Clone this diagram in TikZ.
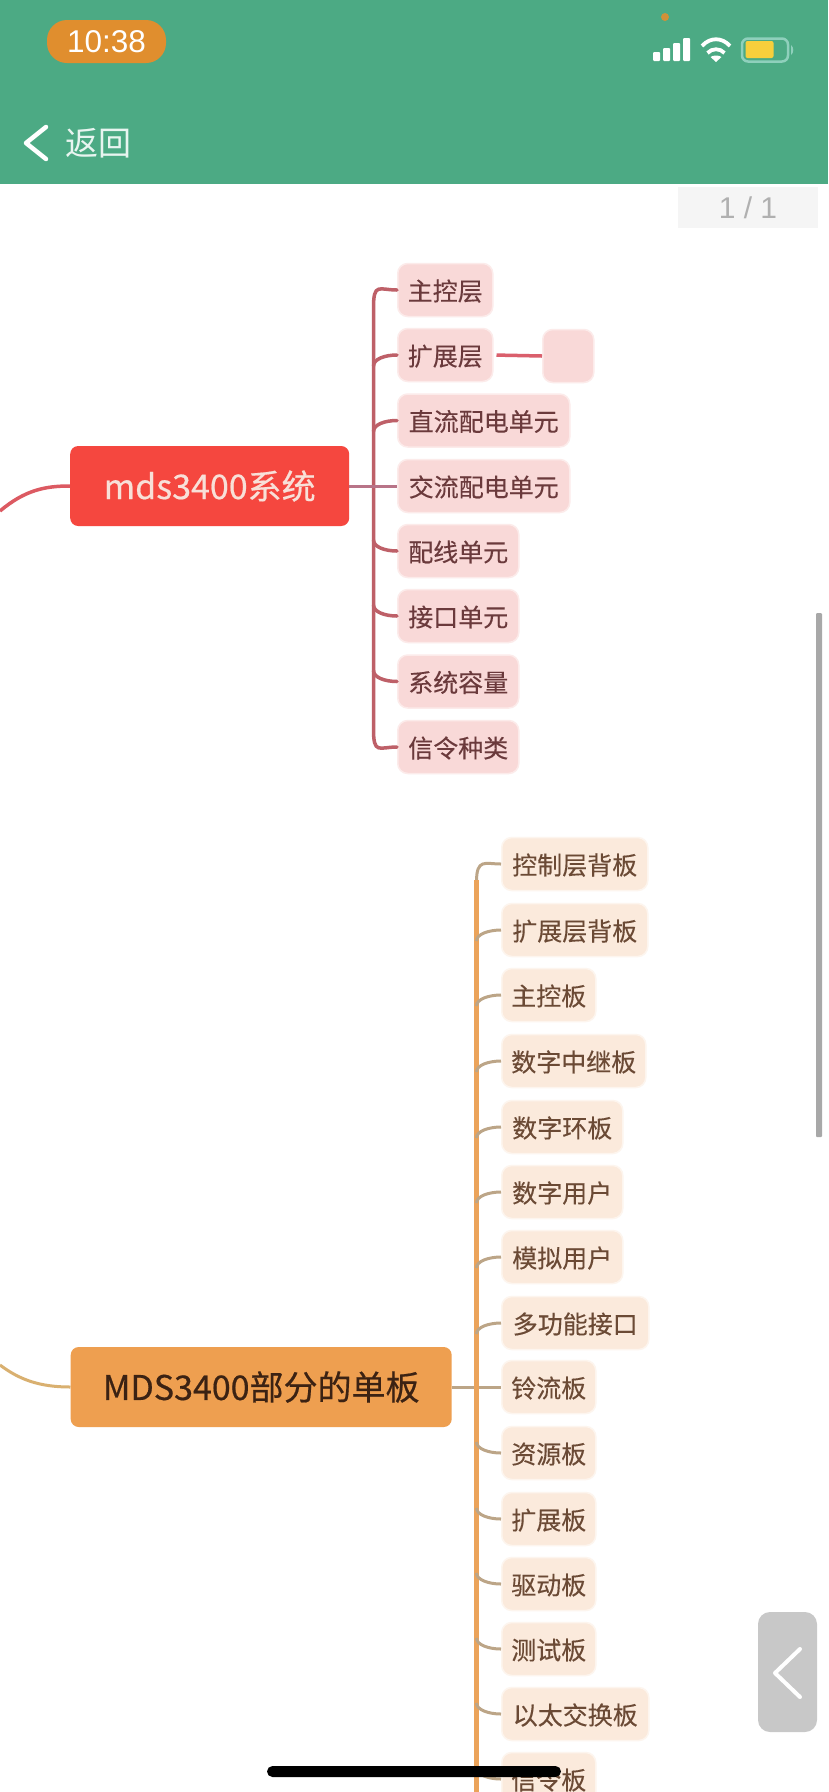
\documentclass[tikz,border=0pt]{standalone}
\usepackage{fontspec}
\setmainfont{Noto Sans CJK SC}
\newfontfamily\latinui{Liberation Sans}
\newfontfamily\kidfont[FakeBold=0.25]{Noto Sans CJK SC}
\newfontfamily\rootfont[FakeBold=0.5]{Noto Sans CJK SC}
\usetikzlibrary{calc}
\definecolor{barGreen}{HTML}{4CAA84}
\definecolor{pillOrange}{HTML}{E08E2E}
\definecolor{batEdge}{HTML}{8FD0BC}
\definecolor{batFill}{HTML}{F7CF3C}
\definecolor{backText}{HTML}{E8F5F0}
\definecolor{badgeFill}{HTML}{F5F5F5}
\definecolor{badgeText}{HTML}{B0B0B0}
\definecolor{scrollGray}{HTML}{A8A8A8}
\definecolor{handleGray}{HTML}{C8C8C8}
\definecolor{redRoot}{HTML}{F5473F}
\definecolor{redRootText}{HTML}{F8E0D8}
\definecolor{redKid}{HTML}{F9D9D8}
\definecolor{redKidEdge}{HTML}{FCEBEA}
\definecolor{redKidText}{HTML}{6B3A3C}
\definecolor{redTrunk}{HTML}{BE6068}
\definecolor{redMid}{HTML}{B87488}
\definecolor{redLink}{HTML}{DA5F6C}
\definecolor{redIn}{HTML}{DC5A62}
\definecolor{orRoot}{HTML}{EE9F50}
\definecolor{orRootText}{HTML}{3B2213}
\definecolor{orKid}{HTML}{FBEADC}
\definecolor{orKidEdge}{HTML}{FDF5EE}
\definecolor{orKidText}{HTML}{6B4A35}
\definecolor{orTrunk}{HTML}{EBA35A}
\definecolor{orStub}{HTML}{BCA587}
\definecolor{orIn}{HTML}{D9B070}
\tikzset{
  x=1pt,y=-1pt,
  rootbox/.style={anchor=west,rounded corners=8pt,inner sep=0pt,minimum height=80pt,font=\rootfont\fontsize{34}{38}\selectfont},
  redroot/.style={rootbox,fill=redRoot,text=redRootText},
  orroot/.style={rootbox,fill=orRoot,text=orRootText},
  kidbox/.style={anchor=west,rounded corners=10pt,inner sep=0pt,minimum height=53pt,line width=1.5pt,text height=23.5pt,text depth=2.5pt,font=\kidfont\fontsize{25}{30}\selectfont},
  redkid/.style={kidbox,fill=redKid,draw=redKidEdge,text=redKidText},
  orkid/.style={kidbox,fill=orKid,draw=orKidEdge,text=orKidText},
  redline/.style={draw=redTrunk,line width=3.5pt,line cap=round},
  orline/.style={draw=orTrunk,line width=5pt,line cap=butt},
  orstub/.style={draw=orStub,line width=3pt},
}
% stub from a child's west side that curves into the trunk below or above it
\newcommand{\stubfrombelow}[3]{\draw[#3] (#1.west) .. controls +(-12,0) and ($(#1.west -| #2)+(0,4)$) .. ($(#1.west -| #2)+(0,11)$);}
\newcommand{\stubfromabove}[3]{\draw[#3] (#1.west) .. controls +(-12,0) and ($(#1.west -| #2)+(0,-4)$) .. ($(#1.west -| #2)+(0,-11)$);}
\begin{document}
\begin{tikzpicture}
\useasboundingbox (0,0) rectangle (828,1792);
\clip (0,0) rectangle (828,1792);
\fill[white] (0,0) rectangle (828,1792);
% ---------- top bar
\fill[barGreen] (0,0) rectangle (828,184);
\node[fill=pillOrange,rounded corners=20pt,minimum width=119pt,minimum height=43pt,inner sep=0pt,text=white,font=\latinui\fontsize{31.5}{34}\selectfont] (clock) at (106.5,41.5) {10:38};
\fill[pillOrange!90!barGreen] (665,17) circle[radius=4];
\fill[white,rounded corners=1pt] (653,52) rectangle (660,61);
\fill[white,rounded corners=1pt] (663,48) rectangle (670,61);
\fill[white,rounded corners=1pt] (673,43) rectangle (680,61);
\fill[white,rounded corners=1pt] (683,38) rectangle (690,61);
\draw[white,line width=3.8pt] (702,46) .. controls (710,37) and (722,37) .. (730,46);
\draw[white,line width=3.8pt] (707.5,53) .. controls (712,48) and (720,48) .. (724.5,53);
\fill[white] (716,62) -- (710.5,57) .. controls (713,55) and (719,55) .. (721.5,57) -- cycle;
\draw[batEdge,line width=2.5pt,rounded corners=6pt] (742,38.5) rectangle (788,61.5);
\fill[batFill,rounded corners=2pt] (745.5,41) rectangle (773.5,58);
\fill[batEdge] (791,45) .. controls (794,47) and (794,53) .. (791,55) -- cycle;
\draw[white,line width=4.5pt,line cap=round,line join=round] (46,127) -- (26,143) -- (46,159);
\node[text=backText,font=\fontsize{33}{36}\selectfont,inner sep=0pt] (back) at (98.5,143) {返回};
\node[fill=badgeFill,minimum width=140pt,minimum height=41pt,inner sep=0pt,text=badgeText,font=\latinui\fontsize{30}{34}\selectfont] (page) at (748,207.5) {1 / 1};
% ---------- scrollbar
\fill[scrollGray,rounded corners=1pt] (816,613) rectangle (822,1137);
% ---------- red branch
\node[redroot,minimum width=279pt] (rr) at (70,486) {mds3400系统};
\node[redkid,minimum width=95pt]  (r1) at (397,290)   {主控层};
\node[redkid,minimum width=95pt]  (r2) at (397,355)   {扩展层};
\node[redkid,minimum width=172pt] (r3) at (397,420.5) {直流配电单元};
\node[redkid,minimum width=172pt] (r4) at (397,486)   {交流配电单元};
\node[redkid,minimum width=121pt] (r5) at (397,551)   {配线单元};
\node[redkid,minimum width=121pt] (r6) at (397,616)   {接口单元};
\node[redkid,minimum width=121pt] (r7) at (397,681.5) {系统容量};
\node[redkid,minimum width=121pt] (r8) at (397,747)   {信令种类};
\node[redkid,minimum width=51pt,minimum height=53pt] (rx) at (542,356) {};
\coordinate (rin) at (0,511);
\coordinate (rt) at (373.5,486);
\draw[redIn,line width=3.5pt] (rin) .. controls (25,490) and (45,486) .. (rr.west);
\draw[redline] (r1.west) .. controls +(-18,0) and ($(r1.west -| rt)+(0,-8)$) .. ($(r1.west -| rt)+(0,18)$)
   -- ($(r8.west -| rt)+(0,-18)$) .. controls ($(r8.west -| rt)+(0,8)$) and +(-18,0) .. (r8.west);
\stubfrombelow{r2}{rt}{redline}
\stubfrombelow{r3}{rt}{redline}
\stubfromabove{r5}{rt}{redline}
\stubfromabove{r6}{rt}{redline}
\stubfromabove{r7}{rt}{redline}
\draw[redMid,line width=3pt] (rr.east) -- (r4.west);
\draw[redLink,line width=3.5pt,shorten <=3pt] (r2.east) -- (rx.west);
% ---------- orange branch
\node[orroot,minimum width=381pt] (or) at (70.5,1387) {MDS3400部分的单板};
\node[orkid,minimum width=146pt] (o1)  at (501,864)  {控制层背板};
\node[orkid,minimum width=146pt] (o2)  at (501,930)  {扩展层背板};
\node[orkid,minimum width=94pt]  (o3)  at (501,995)  {主控板};
\node[orkid,minimum width=144pt] (o4)  at (501,1061) {数字中继板};
\node[orkid,minimum width=121pt] (o5)  at (501,1127) {数字环板};
\node[orkid,minimum width=121pt] (o6)  at (501,1192) {数字用户};
\node[orkid,minimum width=121pt] (o7)  at (501,1257) {模拟用户};
\node[orkid,minimum width=147pt] (o8)  at (501,1323) {多功能接口};
\node[orkid,minimum width=94pt]  (o9)  at (501,1387) {铃流板};
\node[orkid,minimum width=94pt]  (o10) at (501,1453) {资源板};
\node[orkid,minimum width=94pt]  (o11) at (501,1519) {扩展板};
\node[orkid,minimum width=94pt]  (o12) at (501,1584) {驱动板};
\node[orkid,minimum width=94pt]  (o13) at (501,1649) {测试板};
\node[orkid,minimum width=147pt] (o14) at (501,1714) {以太交换板};
\node[orkid,minimum width=94pt]  (o15) at (501,1779) {信令板};
\coordinate (oin) at (0,1365);
\coordinate (ot) at (476.5,1387);
\coordinate (oend) at (476.5,1792);
\draw[orIn,line width=3pt] (oin) .. controls (20,1380) and (40,1387) .. (or.west);
\draw[orstub] (o1.west) .. controls +(-16,0) and ($(o1.west -| ot)+(0,-6)$) .. ($(o1.west -| ot)+(0,18)$);
\draw[orline] ($(o1.west -| ot)+(0,16)$) -- (oend);
\stubfrombelow{o2}{ot}{orstub}
\stubfrombelow{o3}{ot}{orstub}
\stubfrombelow{o4}{ot}{orstub}
\stubfrombelow{o5}{ot}{orstub}
\stubfrombelow{o6}{ot}{orstub}
\stubfrombelow{o7}{ot}{orstub}
\stubfrombelow{o8}{ot}{orstub}
\stubfromabove{o10}{ot}{orstub}
\stubfromabove{o11}{ot}{orstub}
\stubfromabove{o12}{ot}{orstub}
\stubfromabove{o13}{ot}{orstub}
\stubfromabove{o14}{ot}{orstub}
\stubfromabove{o15}{ot}{orstub}
\draw[orStub,line width=3pt] (or.east) -- (ot);
\draw[orStub,line width=3pt] (ot) -- (o9.west);
\draw[orTrunk,line width=5pt] ($(ot)+(0,-6)$) -- ($(ot)+(0,6)$);
% ---------- floating controls
\fill[handleGray,rounded corners=12pt] (758,1612) rectangle (817,1732);
\draw[white,line width=4pt,line cap=round,line join=round] (800,1649) -- (775,1673) -- (800,1697);
\fill[black,rounded corners=5.5pt] (267,1766) rectangle (561,1777);
\end{tikzpicture}
\end{document}
